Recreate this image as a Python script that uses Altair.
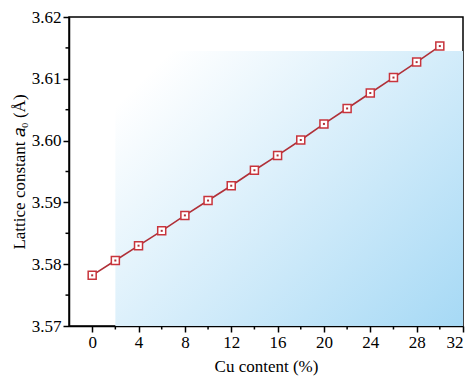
import altair as alt
import pandas as pd

cu_content = [0, 2, 4, 6, 8, 10, 12, 14, 16, 18, 20, 22, 24, 26, 28, 30]
lattice = [3.5782, 3.5806, 3.5830, 3.5854, 3.5879, 3.5903, 3.5927, 3.5952,
           3.5976, 3.6001, 3.6027, 3.6052, 3.6077, 3.6102, 3.6127, 3.6153]
x_ticks = [0, 4, 8, 12, 16, 20, 24, 28, 32]
y_ticks = [3.57, 3.58, 3.59, 3.60, 3.61, 3.62]
x_minor = [2, 6, 10, 14, 18, 22, 26, 30]
y_minor = [3.575, 3.585, 3.595, 3.605, 3.615]
bg_x = [2]
bg_x2 = [32]
bg_y = [3.6145]
bg_y2 = [3.57]

df = pd.DataFrame({"x": cu_content, "y": lattice})
bg = pd.DataFrame({"x": bg_x, "x2": bg_x2, "y": bg_y, "y2": bg_y2})
dfxm = pd.DataFrame({"x": x_minor})
dfym = pd.DataFrame({"y": y_minor})

FONT = "Liberation Serif"
W, H = 394, 309

xscale = alt.Scale(domain=[-2, 32], nice=False, zero=False)
yscale = alt.Scale(domain=[3.57, 3.62], nice=False, zero=False)

xaxis = alt.Axis(title="Cu content (%)", values=x_ticks, titlePadding=8)
yaxis = alt.Axis(title="Lattice constant 𝑎₀ (Å)", values=y_ticks, format=".2f",
                 titlePadding=3)

gradient = alt.Gradient(
    gradient="linear", x1=0, y1=0.2, x2=1, y2=1,
    stops=[alt.GradientStop(color="#ffffff", offset=0),
           alt.GradientStop(color="#d3ecfa", offset=0.5),
           alt.GradientStop(color="#a6d9f5", offset=1)],
)

back = alt.Chart(bg).mark_rect(color=gradient).encode(
    x=alt.X("x:Q", scale=xscale, axis=xaxis),
    x2="x2:Q",
    y=alt.Y("y:Q", scale=yscale, axis=yaxis),
    y2="y2:Q",
)

xminor = alt.Chart(dfxm).mark_rule(color="black", strokeWidth=1.5).encode(
    x=alt.X("x:Q", scale=xscale), y=alt.value(H), y2=alt.value(H + 3.5)
)
yminor = alt.Chart(dfym).mark_rule(color="black", strokeWidth=1.5).encode(
    y=alt.Y("y:Q", scale=yscale), x=alt.value(-3.5), x2=alt.value(0)
)

line = alt.Chart(df).mark_line(color="#b03038", strokeWidth=1.6).encode(
    x=alt.X("x:Q", scale=xscale), y=alt.Y("y:Q", scale=yscale)
)
pts = alt.Chart(df).mark_point(shape="square", filled=True, fill="white",
                                stroke="#c8343c", strokeWidth=1.5, size=64, opacity=1).encode(
    x=alt.X("x:Q", scale=xscale), y=alt.Y("y:Q", scale=yscale)
)
dots = alt.Chart(df).mark_point(shape="square", filled=True, color="#b03038", size=4, opacity=1).encode(
    x=alt.X("x:Q", scale=xscale), y=alt.Y("y:Q", scale=yscale)
)

chart = alt.layer(back, xminor, yminor, line, pts, dots).properties(
    width=W, height=H,
    autosize=alt.AutoSizeParams(type="none"),
    padding={"left": 61, "top": 9, "right": 3, "bottom": 59},
).configure(background="white").configure_view(
    stroke="black", strokeWidth=1.5
).configure_axis(
    grid=False, domainColor="black", tickColor="black", domainWidth=1.5, tickWidth=1.5,
    tickSize=6, labelFont=FONT, labelFontSize=17, labelColor="black", titleFont=FONT,
    titleFontSize=17, titleFontWeight="normal", titleColor="black", labelPadding=2,
)

chart.save("out.html", embed_options={"renderer": "svg", "actions": False})
